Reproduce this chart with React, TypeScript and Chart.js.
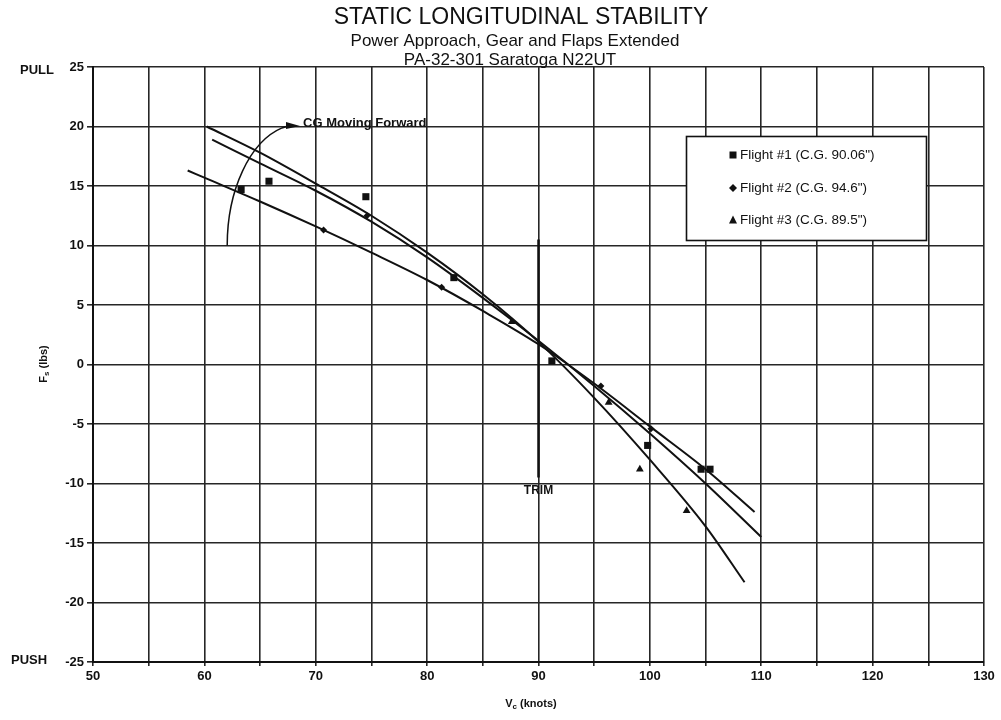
import React, { useEffect, useRef } from 'react';
import { Chart, registerables } from 'chart.js';

Chart.register(...registerables);

// ---- Data ----
const xTickValues = [50, 60, 70, 80, 90, 100, 110, 120, 130];
const yTickValues = [25, 20, 15, 10, 5, 0, -5, -10, -15, -20, -25];

// Flight #1 (C.G. 90.06") – squares
const flight1Speed = [63.3, 65.8, 74.5, 82.4, 91.2, 99.8, 104.6, 105.4];
const flight1Force = [14.7, 15.4, 14.1, 7.3, 0.3, -6.8, -8.8, -8.8];
// Flight #2 (C.G. 94.6") – diamonds
const flight2Speed = [70.7, 74.6, 81.3, 95.6, 100.1];
const flight2Force = [11.3, 12.5, 6.5, -1.8, -5.4];
// Flight #3 (C.G. 89.5") – triangles
const flight3Speed = [87.6, 96.3, 99.1, 103.3];
const flight3Force = [3.6, -3.2, -8.8, -12.3];

// Fitted trend curves
const fit1Speed = [60.7, 65, 70, 75, 80, 85, 90, 95, 100, 105, 110];
const fit1Force = [18.9, 16.9, 14.6, 12.0, 9.0, 5.6, 2.0, -1.8, -5.8, -10.0, -14.5];
const fit2Speed = [58.5, 60, 65, 70, 75, 80, 85, 90, 95, 100, 105, 109.4];
const fit2Force = [16.3, 15.7, 13.7, 11.6, 9.4, 7.1, 4.5, 1.7, -1.6, -5.2, -8.8, -12.4];
const fit3Speed = [60.2, 65, 70, 75, 80, 85, 90, 95, 100, 105, 108.5];
const fit3Force = [20.0, 17.8, 15.2, 12.5, 9.4, 5.9, 1.9, -2.8, -8.0, -13.6, -18.3];

// Trim speed marker
const trimSpeed = [90, 90];
const trimForce = [10.5, -9.5];

const legendLabels = [
  'Flight #1 (C.G. 90.06")',
  'Flight #2 (C.G. 94.6")',
  'Flight #3 (C.G. 89.5")',
];

const toPoints = (xs: number[], ys: number[]) => xs.map((v, i) => ({ x: v, y: ys[i] }));

const FONT = '"Liberation Sans", Arial, Helvetica, sans-serif';
const INK = '#111';

const annotatePlugin = {
  id: 'annotate',
  afterDraw(chart: any) {
    const { ctx } = chart;
    const xs = chart.scales.x;
    const ys = chart.scales.y;
    ctx.save();
    ctx.fillStyle = INK;
    ctx.strokeStyle = INK;
    ctx.textAlign = 'center';
    ctx.textBaseline = 'middle';

    // Titles
    ctx.font = `23px ${FONT}`;
    ctx.fillText('STATIC LONGITUDINAL STABILITY', 521, 18);
    ctx.font = `17px ${FONT}`;
    ctx.fillText('Power Approach, Gear and Flaps Extended', 515, 41);
    ctx.fillText('PA-32-301 Saratoga N22UT', 510, 60);

    // PULL / PUSH
    ctx.font = `bold 13px ${FONT}`;
    ctx.textAlign = 'left';
    ctx.fillText('PULL', 20, 70);
    ctx.fillText('PUSH', 11, 660);

    // Y axis title with subscript
    ctx.save();
    ctx.translate(44, 364);
    ctx.rotate(-Math.PI / 2);
    ctx.font = `bold 11px ${FONT}`;
    const wF = ctx.measureText('F').width;
    ctx.font = `bold 8px ${FONT}`;
    const wS = ctx.measureText('s').width;
    ctx.font = `bold 11px ${FONT}`;
    const wR = ctx.measureText(' (lbs)').width;
    const sx = -(wF + wS + wR) / 2;
    ctx.textAlign = 'left';
    ctx.fillText('F', sx, 0);
    ctx.font = `bold 8px ${FONT}`;
    ctx.fillText('s', sx + wF, 3);
    ctx.font = `bold 11px ${FONT}`;
    ctx.fillText(' (lbs)', sx + wF + wS, 0);
    ctx.restore();

    // X axis title with subscript
    ctx.font = `bold 11px ${FONT}`;
    const wV = ctx.measureText('V').width;
    ctx.font = `bold 8px ${FONT}`;
    const wC = ctx.measureText('c').width;
    ctx.font = `bold 11px ${FONT}`;
    const wK = ctx.measureText(' (knots)').width;
    const tx = 531 - (wV + wC + wK) / 2;
    ctx.textAlign = 'left';
    ctx.fillText('V', tx, 704);
    ctx.font = `bold 8px ${FONT}`;
    ctx.fillText('c', tx + wV, 707);
    ctx.font = `bold 11px ${FONT}`;
    ctx.fillText(' (knots)', tx + wV + wC, 704);

    // TRIM label
    ctx.textAlign = 'center';
    ctx.font = `bold 12px ${FONT}`;
    ctx.fillText('TRIM', xs.getPixelForValue(90), ys.getPixelForValue(-10.6));

    // CG moving forward arc + arrow
    const cx = xs.getPixelForValue(68.6);
    const cy = ys.getPixelForValue(10.0);
    const rx = xs.getPixelForValue(68.6) - xs.getPixelForValue(62.05);
    const ry = ys.getPixelForValue(10.0) - ys.getPixelForValue(20.2);
    ctx.lineWidth = 1.5;
    ctx.beginPath();
    ctx.ellipse(cx, cy, rx, ry, 0, Math.PI, Math.PI * 1.42);
    ctx.stroke();
    const ax = cx + rx * Math.cos(Math.PI * 1.42);
    const ay = cy + ry * Math.sin(Math.PI * 1.42);
    ctx.beginPath();
    ctx.moveTo(ax, ay);
    ctx.lineTo(ax + 6, ay - 2);
    ctx.stroke();
    ctx.beginPath();
    ctx.moveTo(ax + 4, ay - 6);
    ctx.lineTo(ax + 18, ay - 2);
    ctx.lineTo(ax + 4, ay + 1);
    ctx.closePath();
    ctx.fill();
    ctx.font = `bold 13px ${FONT}`;
    ctx.textAlign = 'left';
    ctx.fillText('CG Moving Forward', ax + 21, ay - 5);

    // Legend box
    const lx = 686, ly = 136, lw = 240, lh = 104;
    ctx.fillStyle = '#fff';
    ctx.fillRect(lx, ly, lw, lh);
    ctx.lineWidth = 1.6;
    ctx.strokeStyle = INK;
    ctx.strokeRect(lx + 0.5, ly + 0.5, lw, lh);
    ctx.fillStyle = INK;
    ctx.font = `13.5px ${FONT}`;
    const rowsY = [155, 188, 220];
    const mx = 733;
    // square
    ctx.fillRect(mx - 3.5, rowsY[0] - 3.5, 7, 7);
    // diamond
    ctx.beginPath();
    ctx.moveTo(mx, rowsY[1] - 4);
    ctx.lineTo(mx + 4, rowsY[1]);
    ctx.lineTo(mx, rowsY[1] + 4);
    ctx.lineTo(mx - 4, rowsY[1]);
    ctx.closePath();
    ctx.fill();
    // triangle
    ctx.beginPath();
    ctx.moveTo(mx, rowsY[2] - 4.5);
    ctx.lineTo(mx + 4, rowsY[2] + 3.5);
    ctx.lineTo(mx - 4, rowsY[2] + 3.5);
    ctx.closePath();
    ctx.fill();
    legendLabels.forEach((t, i) => ctx.fillText(t, 740, rowsY[i]));

    ctx.restore();
  },
};

const bgPlugin = {
  id: 'bg',
  beforeDraw(chart: any) {
    const { ctx, width, height } = chart;
    ctx.save();
    ctx.fillStyle = '#fff';
    ctx.fillRect(0, 0, width, height);
    ctx.restore();
  },
};

export default function App() {
  const ref = useRef<HTMLCanvasElement | null>(null);

  useEffect(() => {
    if (!ref.current) return;
    const lineDs = (xs: number[], ys: number[]) => ({
      type: 'line' as const,
      data: toPoints(xs, ys),
      showLine: true,
      borderColor: INK,
      borderWidth: 2,
      pointRadius: 0,
      cubicInterpolationMode: 'monotone' as const,
      fill: false,
    });
    const pointDs = (xs: number[], ys: number[], style: string, r: number) => ({
      type: 'scatter' as const,
      data: toPoints(xs, ys),
      showLine: false,
      pointStyle: style,
      pointRadius: r,
      backgroundColor: INK,
      borderColor: INK,
      borderWidth: 0,
    });

    const chart = new Chart(ref.current, {
      type: 'scatter',
      data: {
        datasets: [
          lineDs(fit1Speed, fit1Force),
          lineDs(fit2Speed, fit2Force),
          lineDs(fit3Speed, fit3Force),
          { ...lineDs(trimSpeed, trimForce), borderWidth: 2.5, cubicInterpolationMode: 'default' as const },
          pointDs(flight1Speed, flight1Force, 'rect', 5),
          pointDs(flight2Speed, flight2Force, 'rectRot', 3.5),
          pointDs(flight3Speed, flight3Force, 'triangle', 4.5),
        ] as any,
      },
      options: {
        responsive: false,
        animation: false,
        layout: { padding: { left: 0, top: 67, right: 17, bottom: 0 } },
        plugins: {
          legend: { display: false },
          title: { display: false },
          tooltip: { enabled: false },
        },
        scales: {
          x: {
            type: 'linear',
            min: 50,
            max: 130,
            afterFit: (s: any) => { s.height = 58; },
            afterBuildTicks: (s: any) => {
              const t: any[] = [];
              for (let v = 50; v <= 130; v += 5) t.push({ value: v });
              s.ticks = t;
            },
            ticks: {
              color: INK,
              font: { family: FONT, size: 13, weight: 'bold' },
              padding: 3,
              maxRotation: 0,
              autoSkip: false,
              callback: (v: any) => (xTickValues.includes(Number(v)) ? String(v) : ''),
            },
            grid: { color: '#262626', lineWidth: 1.6, tickLength: 4 },
            border: { color: INK, width: 2 },
          },
          y: {
            type: 'linear',
            min: -25,
            max: 25,
            afterFit: (s: any) => { s.width = 93; },
            afterBuildTicks: (s: any) => {
              s.ticks = yTickValues.map((v) => ({ value: v }));
            },
            ticks: {
              color: INK,
              font: { family: FONT, size: 13, weight: 'bold' },
              padding: 3,
              autoSkip: false,
            },
            grid: { color: '#262626', lineWidth: 1.6, tickLength: 6 },
            border: { color: INK, width: 2 },
          },
        },
      },
      plugins: [bgPlugin, annotatePlugin],
    } as any);
    return () => chart.destroy();
  }, []);

  return (
    <div style={{ position: 'absolute', left: 0, top: 0, width: 1001, height: 720, background: '#fff' }}>
      <canvas ref={ref} width={1001} height={720} style={{ width: 1001, height: 720, display: 'block' }} />
    </div>
  );
}
